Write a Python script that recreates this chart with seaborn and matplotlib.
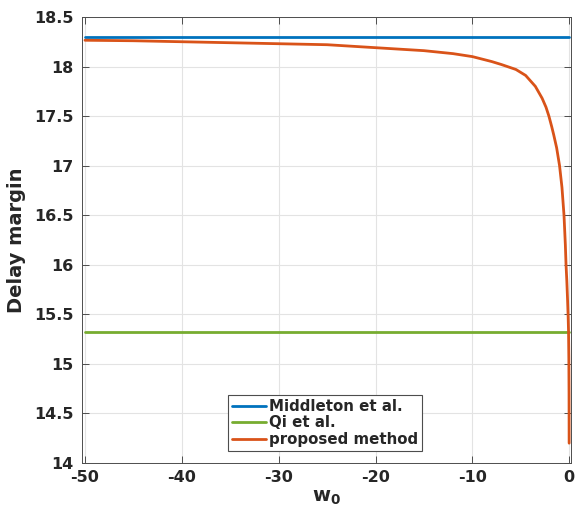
import numpy as np
import pandas as pd
import matplotlib
matplotlib.use("Agg")
import matplotlib.pyplot as plt
import seaborn as sns

# ---- data ----
w_const = [-50.0, 0.0]
middleton = [18.30, 18.30]
qi = [15.32, 15.32]

w_prop = [-50, -45, -40, -35, -30, -25, -20, -15, -12, -10, -8, -7, -5.5, -4.5,
          -3.5, -2.8, -2.4, -2.1, -1.8, -1.6, -1.3, -1.0, -0.75, -0.54, -0.4,
          -0.33, -0.25, -0.17, -0.11, -0.07, -0.04, -0.02, -0.01]
proposed = [18.265, 18.26, 18.25, 18.24, 18.23, 18.22, 18.19, 18.16, 18.13,
            18.10, 18.05, 18.02, 17.97, 17.91, 17.80, 17.68, 17.59, 17.50,
            17.39, 17.31, 17.18, 17.00, 16.78, 16.50, 16.20, 16.00, 15.84,
            15.64, 15.47, 15.32, 15.05, 14.70, 14.20]

labels = ["Middleton et al.", "Qi et al.", "proposed method"]
colors = ["#0072BD", "#77AC30", "#D95319"]
xticks = [-50, -40, -30, -20, -10, 0]
yticks = [14, 14.5, 15, 15.5, 16, 16.5, 17, 17.5, 18, 18.5]
ytick_labels = ["14", "14.5", "15", "15.5", "16", "16.5", "17", "17.5", "18", "18.5"]

df = pd.concat([
    pd.DataFrame({"w": w_const, "dm": middleton, "method": labels[0]}),
    pd.DataFrame({"w": w_const, "dm": qi, "method": labels[1]}),
    pd.DataFrame({"w": w_prop, "dm": proposed, "method": labels[2]}),
], ignore_index=True)

sns.set_theme(style="whitegrid")
plt.rcParams["font.family"] = ["DejaVu Sans"]

fig = plt.figure(figsize=(5.75, 5.14), dpi=100)
ax = fig.add_axes([0.1426, 0.0992, 0.8504, 0.8678])

sns.lineplot(data=df, x="w", y="dm", hue="method", hue_order=labels,
             palette=colors, linewidth=2.0, ax=ax, sort=False,
             estimator=None)

ax.set_xlim(-50.31, 0.18)
ax.set_ylim(14, 18.5)
ax.set_xticks(xticks)
ax.set_xticklabels([str(t) for t in xticks])
ax.set_yticks(yticks)
ax.set_yticklabels(ytick_labels)

ax.set_facecolor("white")
ax.grid(True, color="#e3e3e3", linewidth=0.8)
for s in ax.spines.values():
    s.set_visible(True)
    s.set_color("#4d4d4d")
    s.set_linewidth(0.7)

ax.tick_params(axis="both", which="both", direction="in", length=5, width=0.7,
               color="#4d4d4d", top=True, right=True, bottom=True, left=True,
               labelsize=11.5, labelcolor="#262626")
ax.tick_params(axis="x", pad=5)
ax.tick_params(axis="y", pad=6)
for lab in ax.get_xticklabels() + ax.get_yticklabels():
    lab.set_fontweight("bold")

ax.set_xlabel(r"$\mathbf{w_0}$", fontsize=14, color="#262626", labelpad=2)
ax.set_ylabel("Delay margin", fontsize=14, fontweight="bold", color="#262626",
              labelpad=6)

leg = ax.legend(loc="lower center", bbox_to_anchor=(0.497, 0.028),
                frameon=True, fancybox=False, framealpha=1,
                prop={"weight": "bold", "size": 10.8},
                handlelength=2.3, handletextpad=0.2, labelspacing=0.1,
                borderpad=0.25, borderaxespad=0.0)
leg.get_frame().set_edgecolor("#4d4d4d")
leg.get_frame().set_linewidth(0.8)
for t in leg.get_texts():
    t.set_color("#262626")
for h in leg.get_lines():
    h.set_linewidth(2.0)

fig.savefig("out.png", dpi=100)
